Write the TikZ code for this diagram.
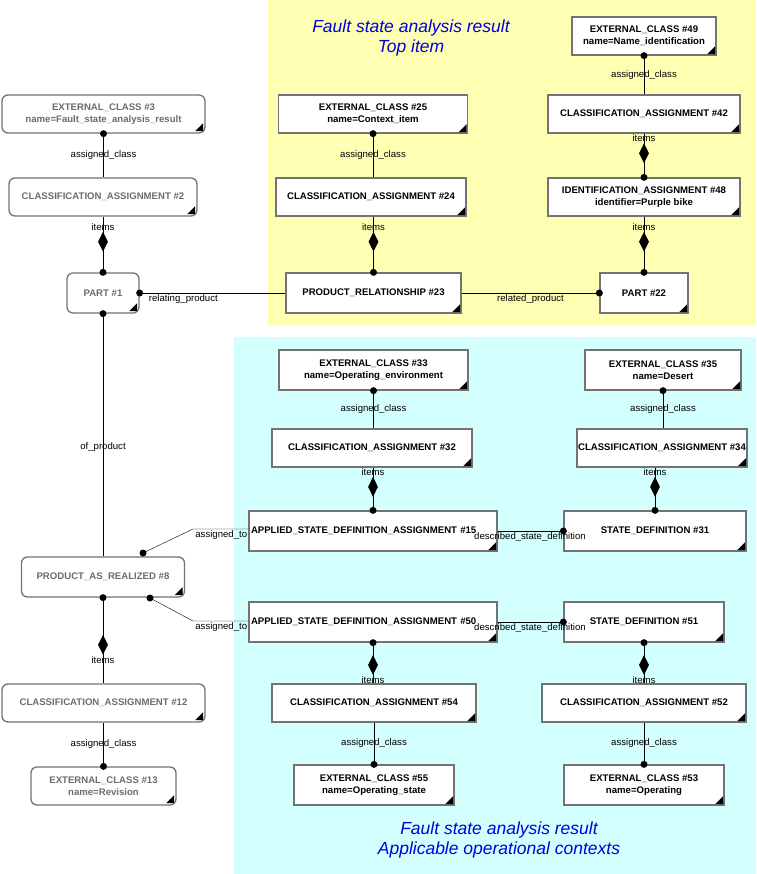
\documentclass[tikz,border=0pt]{standalone}
\usepackage{fontspec}
\setmainfont{Liberation Sans}
\usetikzlibrary{shapes.geometric}
\definecolor{yel}{HTML}{FFFFB4}
\definecolor{cya}{HTML}{D4FFFF}
\begin{document}
\begin{tikzpicture}[x=1pt,y=-1pt,
 box/.style={draw=gray!90!black,line width=1.3pt,fill=white,align=center,inner sep=1pt,
   font=\fontsize{9.6}{12}\selectfont\bfseries},
 rbox/.style={box,rounded corners=6pt,text=gray!85!black},
 lab/.style={font=\fontsize{9.6}{11}\selectfont,inner sep=1pt},
 dot/.style={circle,fill,inner sep=0,minimum size=7pt},
 dia/.style={diamond,fill,inner sep=0,minimum width=10pt,minimum height=20pt},
 ttl/.style={font=\fontsize{17.5}{20}\selectfont\itshape,text=blue!85!black,align=center}]
\useasboundingbox (0,0) rectangle (756,874);
\fill[yel] (268,0) rectangle (756,325);
\fill[cya] (234,337) rectangle (756,874);
\node[ttl] (t1) at (411,38) {Fault state analysis result\\Top item};
\node[ttl] (t2) at (499,840) {Fault state analysis result\\Applicable operational contexts};
% nodes
\node[rbox,minimum width=203pt,minimum height=38pt] (ec3) at (103.5,114) {EXTERNAL\_CLASS \#3\\name=Fault\_state\_analysis\_result};
\node[rbox,minimum width=188pt,minimum height=38pt] (ca2) at (103,197) {CLASSIFICATION\_ASSIGNMENT \#2};
\node[rbox,minimum width=72pt,minimum height=40pt] (p1) at (103,293) {PART \#1};
\node[rbox,minimum width=163pt,minimum height=40pt] (par8) at (103,577) {PRODUCT\_AS\_REALIZED \#8};
\node[rbox,minimum width=203pt,minimum height=38pt] (ca12) at (103.5,703) {CLASSIFICATION\_ASSIGNMENT \#12};
\node[rbox,minimum width=145pt,minimum height=38pt] (ec13) at (103.5,786) {EXTERNAL\_CLASS \#13\\name=Revision};
\node[box,minimum width=189pt,minimum height=38pt] (ec25) at (373,114) {EXTERNAL\_CLASS \#25\\name=Context\_item};
\node[box,minimum width=190pt,minimum height=38pt] (ca24) at (371,197) {CLASSIFICATION\_ASSIGNMENT \#24};
\node[box,minimum width=175pt,minimum height=40pt] (pr23) at (373.5,293) {PRODUCT\_RELATIONSHIP \#23};
\node[box,minimum width=144pt,minimum height=38pt] (ec49) at (644,36) {EXTERNAL\_CLASS \#49\\name=Name\_identification};
\node[box,minimum width=192pt,minimum height=38pt] (ca42) at (644,114) {CLASSIFICATION\_ASSIGNMENT \#42};
\node[box,minimum width=192pt,minimum height=38pt] (ia48) at (644,197) {IDENTIFICATION\_ASSIGNMENT \#48\\identifier=Purple bike};
\node[box,minimum width=88pt,minimum height=40pt] (p22) at (644,293) {PART \#22};
\node[box,minimum width=189pt,minimum height=40pt] (ec33) at (373.5,370) {EXTERNAL\_CLASS \#33\\name=Operating\_environment};
\node[box,minimum width=200pt,minimum height=38pt] (ca32) at (372,448) {CLASSIFICATION\_ASSIGNMENT \#32};
\node[box,minimum width=248pt,minimum height=40pt,text width=244pt,align=left] (a15) at (373,531) {APPLIED\_STATE\_DEFINITION\_ASSIGNMENT \#15};
\node[box,minimum width=156pt,minimum height=40pt] (ec35) at (663,370) {EXTERNAL\_CLASS \#35\\name=Desert};
\node[box,minimum width=168pt,minimum height=38pt] (ca34) at (662,448) {CLASSIFICATION\_ASSIGNMENT \#34};
\node[box,minimum width=182pt,minimum height=40pt] (sd31) at (655,531) {STATE\_DEFINITION \#31};
\node[box,minimum width=248pt,minimum height=40pt,text width=244pt,align=left] (a50) at (373,622) {APPLIED\_STATE\_DEFINITION\_ASSIGNMENT \#50};
\node[box,minimum width=160pt,minimum height=40pt] (sd51) at (644,622) {STATE\_DEFINITION \#51};
\node[box,minimum width=204pt,minimum height=38pt] (ca54) at (374,703) {CLASSIFICATION\_ASSIGNMENT \#54};
\node[box,minimum width=204pt,minimum height=38pt] (ca52) at (644,703) {CLASSIFICATION\_ASSIGNMENT \#52};
\node[box,minimum width=160pt,minimum height=40pt] (ec55) at (374,785) {EXTERNAL\_CLASS \#55\\name=Operating\_state};
\node[box,minimum width=160pt,minimum height=40pt] (ec53) at (644,785) {EXTERNAL\_CLASS \#53\\name=Operating};
% corner marks
\foreach \n in {ec25,ca24,pr23,ec49,ca42,ia48,p22,ec33,ca32,a15,ec35,ca34,sd31,a50,sd51,ca54,ca52,ec55,ec53}
 \fill ([shift={(-1.5pt,1.5pt)}]\n.south east) -- ++(-8pt,0) -- ++(8pt,8pt) -- cycle;
\foreach \n in {ec3,ca2,p1,par8,ca12,ec13}
 \fill ([shift={(-2.5pt,2.5pt)}]\n.south east) -- ++(-8pt,0) -- ++(8pt,8pt) -- cycle;
% assigned_class connectors (dot at class)
\foreach \c/\a in {ec3/ca2,ec25/ca24,ec49/ca42,ec33/ca32,ec35/ca34}{
 \draw (\c.south) -- node[lab]{assigned\_class} (\c.south |- \a.north);
 \node[dot] at (\c.south) {};}
\foreach \c/\a in {ec13/ca12,ec55/ca54,ec53/ca52}{
 \draw (\c.north) -- node[lab]{assigned\_class} (\c.north |- \a.south);
 \node[dot] at (\c.north) {};}
% items connectors
\foreach \a/\i in {ca2/p1,ca24/pr23,ca42/ia48,ia48/p22,ca32/a15,ca34/sd31}{
 \draw (\i.north |- \a.south) -- (\i.north) node[pos=0.45,dia](d\a){};
 \node[lab,above] at (d\a.north) {items};
 \node[dot] at (\i.north) {};}
\foreach \a/\i in {ca54/a50,ca52/sd51,ca12/par8}{
 \draw (\i.south |- \a.north) -- (\i.south) node[pos=0.45,dia](d\a){};
 \node[lab,below] at (d\a.south) {items};
 \node[dot] at (\i.south) {};}
% relationships
\draw (p1.east) -- node[lab,below,pos=0.3]{relating\_product} (pr23.west);
\node[dot] at (p1.east) {};
\draw (pr23.east) -- node[lab,below,pos=0.5]{related\_product} (p22.west);
\node[dot] at (p22.west) {};
\draw (p1.south) -- node[lab,pos=0.55]{of\_product} (par8.north);
\node[dot] at (p1.south) {};
\coordinate (k15) at (193,529);
\coordinate (k50) at (193,621);
\draw (a15.west |- k15) -- (k15) -- (143,553) node[dot]{};
\node[lab,below left] at (a15.west |- k15) {assigned\_to};
\draw (a50.west |- k50) -- (k50) -- (150,598) node[dot]{};
\node[lab,below left] at (a50.west |- k50) {assigned\_to};
\draw (a15.east |- sd31.west) -- (sd31.west) node[dot]{};
\node[lab] at (530,537) {described\_state\_definition};
\draw (a50.east |- sd51.west) -- (sd51.west) node[dot]{};
\node[lab] at (530,628) {described\_state\_definition};
\end{tikzpicture}
\end{document}
